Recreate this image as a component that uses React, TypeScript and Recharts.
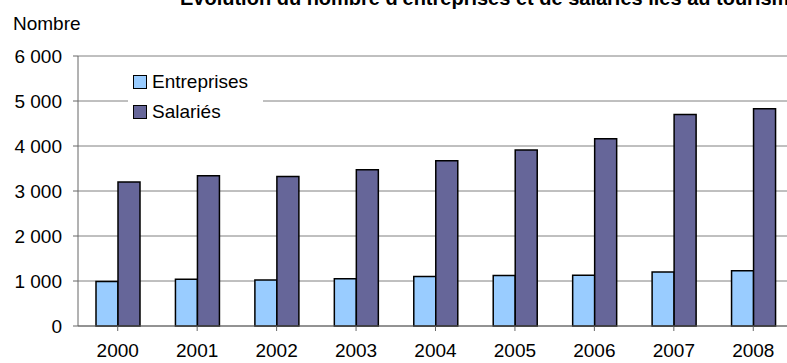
import React from 'react';
import { BarChart, Bar, XAxis, YAxis, CartesianGrid } from 'recharts';

const years = ['2000', '2001', '2002', '2003', '2004', '2005', '2006', '2007', '2008'];
const entreprises = [990, 1040, 1020, 1050, 1100, 1120, 1130, 1200, 1230];
const salaries = [3200, 3340, 3320, 3470, 3670, 3910, 4160, 4700, 4830];
const yTicks = [0, 1000, 2000, 3000, 4000, 5000, 6000];

const title = "Évolution du nombre d'entreprises et de salariés liés au tourisme";
const yLabel = 'Nombre';
const seriesNames = ['Entreprises', 'Salariés'];
const colors = ['#99CCFF', '#666699'];

const data = years.map((y, i) => ({ year: y, e: entreprises[i], s: salaries[i] }));

const FONT = '"Liberation Sans", Arial, sans-serif';

const fmt = (v: number) => (v === 0 ? '0' : `${Math.floor(v / 1000)} ${String(v % 1000).padStart(3, '0')}`);

const LegendBox = () => (
  <div style={{ position: 'absolute', left: 128, top: 67, width: 135, background: '#fff', padding: '0 5px', boxSizing: 'border-box', fontFamily: FONT, fontSize: 19, color: '#000' }}>
    {seriesNames.map((n, i) => (
      <div key={n} style={{ display: 'flex', alignItems: 'center', height: 30 }}>
        <span style={{ display: 'inline-block', width: 12, height: 12, background: colors[i], border: '1px solid #000', marginRight: 5 }} />
        <span>{n}</span>
      </div>
    ))}
  </div>
);

export default function App() {
  return (
    <div style={{ position: 'absolute', left: 0, top: 0, width: 787, height: 363, overflow: 'hidden', background: '#fff', fontFamily: FONT }}>
      <BarChart
        width={793}
        height={363}
        data={data}
        margin={{ top: 56, right: 0, bottom: 0, left: 8 }}
        barGap={0}
        barSize={22}
      >
        <CartesianGrid vertical={false} stroke="#808080" strokeWidth={1} />
        <XAxis
          dataKey="year"
          height={37}
          tickSize={5}
          tickMargin={13}
          interval={0}
          axisLine={{ stroke: '#666' }}
          tickLine={{ stroke: '#666' }}
          tick={{ fill: '#000', fontSize: 19, fontFamily: FONT }}
        />
        <YAxis
          width={70}
          domain={[0, 6000]}
          ticks={yTicks}
          tickFormatter={fmt}
          tickSize={5}
          tickMargin={11}
          axisLine={{ stroke: '#666' }}
          tickLine={{ stroke: '#666' }}
          tick={{ fill: '#000', fontSize: 19, fontFamily: FONT }}
        />
        <Bar dataKey="e" name={seriesNames[0]} fill={colors[0]} stroke="#000" strokeWidth={1.5} isAnimationActive={false} />
        <Bar dataKey="s" name={seriesNames[1]} fill={colors[1]} stroke="#000" strokeWidth={1.5} isAnimationActive={false} />
      </BarChart>
      <LegendBox />
      <div style={{ position: 'absolute', left: 180, top: -12, fontSize: 20, lineHeight: '20px', fontWeight: 'bold', whiteSpace: 'nowrap', color: '#000' }}>{title}</div>
      <div style={{ position: 'absolute', left: 13, top: 14, fontSize: 19, lineHeight: '19px', color: '#000' }}>{yLabel}</div>
    </div>
  );
}
